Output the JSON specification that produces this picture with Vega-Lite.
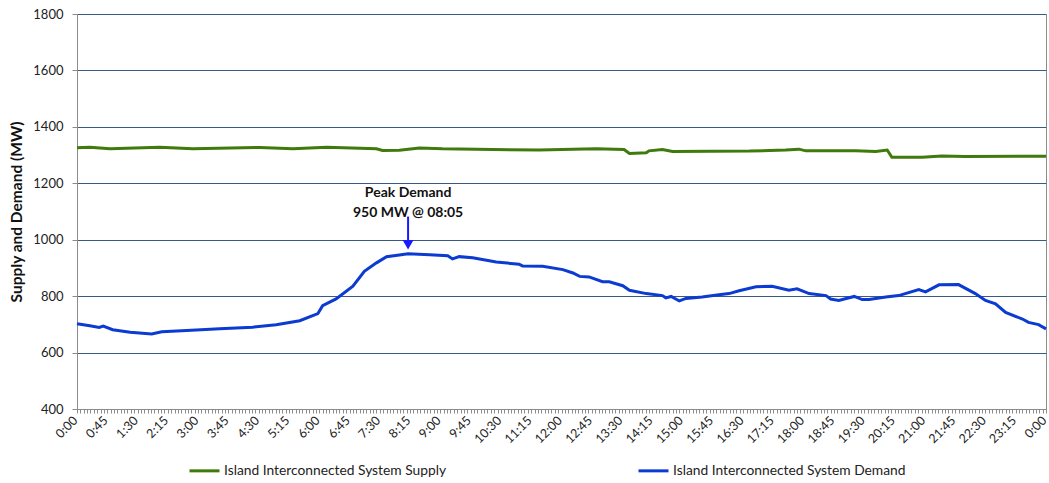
{
  "$schema": "https://vega.github.io/schema/vega-lite/v6.json",
  "width": 969,
  "height": 395,
  "autosize": {"type": "none"},
  "padding": {"left": 77, "top": 14, "right": 3, "bottom": 74},
  "background": "white",
  "config": {
    "font": "Lato",
    "view": {"stroke": "#8c8c8c", "strokeWidth": 1}
  },
  "datasets": {
    "series": [
      {"t": 0, "s": "Island Interconnected System Supply", "v": 1326},
      {"t": 19, "s": "Island Interconnected System Supply", "v": 1328},
      {"t": 49, "s": "Island Interconnected System Supply", "v": 1322},
      {"t": 123, "s": "Island Interconnected System Supply", "v": 1328},
      {"t": 172, "s": "Island Interconnected System Supply", "v": 1322},
      {"t": 272, "s": "Island Interconnected System Supply", "v": 1327},
      {"t": 321, "s": "Island Interconnected System Supply", "v": 1322},
      {"t": 371, "s": "Island Interconnected System Supply", "v": 1328},
      {"t": 445, "s": "Island Interconnected System Supply", "v": 1322},
      {"t": 454, "s": "Island Interconnected System Supply", "v": 1316},
      {"t": 479, "s": "Island Interconnected System Supply", "v": 1317},
      {"t": 509, "s": "Island Interconnected System Supply", "v": 1325},
      {"t": 543, "s": "Island Interconnected System Supply", "v": 1322},
      {"t": 687, "s": "Island Interconnected System Supply", "v": 1318},
      {"t": 771, "s": "Island Interconnected System Supply", "v": 1322},
      {"t": 813, "s": "Island Interconnected System Supply", "v": 1320},
      {"t": 821, "s": "Island Interconnected System Supply", "v": 1306},
      {"t": 846, "s": "Island Interconnected System Supply", "v": 1308},
      {"t": 850, "s": "Island Interconnected System Supply", "v": 1315},
      {"t": 870, "s": "Island Interconnected System Supply", "v": 1320},
      {"t": 885, "s": "Island Interconnected System Supply", "v": 1313},
      {"t": 999, "s": "Island Interconnected System Supply", "v": 1314},
      {"t": 1053, "s": "Island Interconnected System Supply", "v": 1318},
      {"t": 1073, "s": "Island Interconnected System Supply", "v": 1321},
      {"t": 1083, "s": "Island Interconnected System Supply", "v": 1315},
      {"t": 1157, "s": "Island Interconnected System Supply", "v": 1315},
      {"t": 1187, "s": "Island Interconnected System Supply", "v": 1313},
      {"t": 1204, "s": "Island Interconnected System Supply", "v": 1318},
      {"t": 1211, "s": "Island Interconnected System Supply", "v": 1292},
      {"t": 1256, "s": "Island Interconnected System Supply", "v": 1292},
      {"t": 1285, "s": "Island Interconnected System Supply", "v": 1297},
      {"t": 1320, "s": "Island Interconnected System Supply", "v": 1295},
      {"t": 1440, "s": "Island Interconnected System Supply", "v": 1296},
      {"t": 0, "s": "Island Interconnected System Demand", "v": 702},
      {"t": 19, "s": "Island Interconnected System Demand", "v": 695},
      {"t": 33, "s": "Island Interconnected System Demand", "v": 689},
      {"t": 39, "s": "Island Interconnected System Demand", "v": 694},
      {"t": 53, "s": "Island Interconnected System Demand", "v": 681},
      {"t": 79, "s": "Island Interconnected System Demand", "v": 672},
      {"t": 111, "s": "Island Interconnected System Demand", "v": 666},
      {"t": 126, "s": "Island Interconnected System Demand", "v": 674},
      {"t": 163, "s": "Island Interconnected System Demand", "v": 678},
      {"t": 212, "s": "Island Interconnected System Demand", "v": 684},
      {"t": 261, "s": "Island Interconnected System Demand", "v": 690},
      {"t": 296, "s": "Island Interconnected System Demand", "v": 699},
      {"t": 331, "s": "Island Interconnected System Demand", "v": 713},
      {"t": 358, "s": "Island Interconnected System Demand", "v": 738},
      {"t": 365, "s": "Island Interconnected System Demand", "v": 766},
      {"t": 385, "s": "Island Interconnected System Demand", "v": 790},
      {"t": 410, "s": "Island Interconnected System Demand", "v": 835},
      {"t": 427, "s": "Island Interconnected System Demand", "v": 888},
      {"t": 445, "s": "Island Interconnected System Demand", "v": 918},
      {"t": 460, "s": "Island Interconnected System Demand", "v": 940},
      {"t": 479, "s": "Island Interconnected System Demand", "v": 946},
      {"t": 492, "s": "Island Interconnected System Demand", "v": 950},
      {"t": 524, "s": "Island Interconnected System Demand", "v": 947},
      {"t": 551, "s": "Island Interconnected System Demand", "v": 943},
      {"t": 558, "s": "Island Interconnected System Demand", "v": 932},
      {"t": 568, "s": "Island Interconnected System Demand", "v": 940},
      {"t": 588, "s": "Island Interconnected System Demand", "v": 936},
      {"t": 623, "s": "Island Interconnected System Demand", "v": 921},
      {"t": 657, "s": "Island Interconnected System Demand", "v": 913},
      {"t": 662, "s": "Island Interconnected System Demand", "v": 907},
      {"t": 692, "s": "Island Interconnected System Demand", "v": 906},
      {"t": 722, "s": "Island Interconnected System Demand", "v": 894},
      {"t": 737, "s": "Island Interconnected System Demand", "v": 882},
      {"t": 747, "s": "Island Interconnected System Demand", "v": 870},
      {"t": 761, "s": "Island Interconnected System Demand", "v": 868},
      {"t": 781, "s": "Island Interconnected System Demand", "v": 851},
      {"t": 791, "s": "Island Interconnected System Demand", "v": 851},
      {"t": 811, "s": "Island Interconnected System Demand", "v": 837},
      {"t": 821, "s": "Island Interconnected System Demand", "v": 821},
      {"t": 846, "s": "Island Interconnected System Demand", "v": 809},
      {"t": 870, "s": "Island Interconnected System Demand", "v": 802},
      {"t": 875, "s": "Island Interconnected System Demand", "v": 794},
      {"t": 883, "s": "Island Interconnected System Demand", "v": 799},
      {"t": 895, "s": "Island Interconnected System Demand", "v": 783},
      {"t": 905, "s": "Island Interconnected System Demand", "v": 792},
      {"t": 929, "s": "Island Interconnected System Demand", "v": 797},
      {"t": 954, "s": "Island Interconnected System Demand", "v": 805},
      {"t": 969, "s": "Island Interconnected System Demand", "v": 809},
      {"t": 984, "s": "Island Interconnected System Demand", "v": 819},
      {"t": 1009, "s": "Island Interconnected System Demand", "v": 833},
      {"t": 1033, "s": "Island Interconnected System Demand", "v": 835},
      {"t": 1058, "s": "Island Interconnected System Demand", "v": 821},
      {"t": 1070, "s": "Island Interconnected System Demand", "v": 826},
      {"t": 1088, "s": "Island Interconnected System Demand", "v": 809},
      {"t": 1113, "s": "Island Interconnected System Demand", "v": 802},
      {"t": 1120, "s": "Island Interconnected System Demand", "v": 790},
      {"t": 1132, "s": "Island Interconnected System Demand", "v": 785},
      {"t": 1155, "s": "Island Interconnected System Demand", "v": 799},
      {"t": 1167, "s": "Island Interconnected System Demand", "v": 788},
      {"t": 1177, "s": "Island Interconnected System Demand", "v": 788},
      {"t": 1202, "s": "Island Interconnected System Demand", "v": 797},
      {"t": 1221, "s": "Island Interconnected System Demand", "v": 802},
      {"t": 1251, "s": "Island Interconnected System Demand", "v": 823},
      {"t": 1261, "s": "Island Interconnected System Demand", "v": 815},
      {"t": 1281, "s": "Island Interconnected System Demand", "v": 840},
      {"t": 1310, "s": "Island Interconnected System Demand", "v": 841},
      {"t": 1335, "s": "Island Interconnected System Demand", "v": 809},
      {"t": 1350, "s": "Island Interconnected System Demand", "v": 785},
      {"t": 1365, "s": "Island Interconnected System Demand", "v": 773},
      {"t": 1380, "s": "Island Interconnected System Demand", "v": 742},
      {"t": 1405, "s": "Island Interconnected System Demand", "v": 719},
      {"t": 1414, "s": "Island Interconnected System Demand", "v": 707},
      {"t": 1429, "s": "Island Interconnected System Demand", "v": 699},
      {"t": 1440, "s": "Island Interconnected System Demand", "v": 684}
    ],
    "peak": [
      {"t": 492, "label": "Peak Demand\n950 MW @ 08:05", "ty": 1152, "a0": 1082, "a1": 995, "tip": 982}
    ]
  },
  "layer": [
    {
      "data": {"name": "series"},
      "mark": {"type": "line", "strokeWidth": 3, "interpolate": "linear"},
      "encoding": {
        "x": {
          "field": "t",
          "type": "quantitative",
          "scale": {"domain": [0, 1440], "nice": false, "zero": false},
          "axis": {
            "title": null,
            "grid": false,
            "tickCount": 288,
            "labelExpr": "datum.value % 45 === 0 ? (floor(datum.value / 60) % 24) + ':' + (datum.value % 60 < 10 ? '0' : '') + (datum.value % 60) : ''",
            "labelOverlap": false,
            "labelFlush": false,
            "labelBound": false,
            "labelAngle": -45,
            "labelAlign": "right",
            "labelBaseline": "middle",
            "labelPadding": 5,
            "labelOffset": -2,
            "labelFontSize": 12.5,
            "labelColor": "#222222",
            "tickSize": 4,
            "tickColor": "#8c8c8c",
            "domainColor": "#8c8c8c"
          }
        },
        "y": {
          "field": "v",
          "type": "quantitative",
          "scale": {"domain": [400, 1800], "nice": false, "zero": false},
          "axis": {
            "title": "Supply and Demand (MW)",
            "titleFontSize": 15.5,
            "titleFontWeight": "bold",
            "titleColor": "#111111",
            "titlePadding": 8,
            "format": "d",
            "values": [400, 600, 800, 1000, 1200, 1400, 1600, 1800],
            "grid": true,
            "gridColor": "#3a5a86",
            "gridWidth": 1,
            "labelFontSize": 13,
            "labelColor": "#222222",
            "labelPadding": 9,
            "tickSize": 5,
            "tickColor": "#8c8c8c",
            "domainColor": "#8c8c8c"
          }
        },
        "color": {
          "field": "s",
          "type": "nominal",
          "scale": {
            "domain": ["Island Interconnected System Supply", "Island Interconnected System Demand"],
            "range": ["#3f7a0c", "#0b3bd0"]
          },
          "legend": {
            "title": null,
            "orient": "none",
            "direction": "horizontal",
            "legendX": 111,
            "legendY": 440,
            "symbolType": "stroke",
            "symbolSize": 900,
            "symbolStrokeWidth": 3,
            "labelFontSize": 13.8,
            "labelColor": "#222222",
            "labelLimit": 400,
            "columnPadding": 185,
            "labelOffset": 3
          }
        }
      }
    },
    {
      "data": {"name": "peak"},
      "mark": {"type": "rule", "color": "#1a1aff", "strokeWidth": 2},
      "encoding": {
        "x": {"field": "t", "type": "quantitative"},
        "y": {"field": "a0", "type": "quantitative"},
        "y2": {"field": "a1"}
      }
    },
    {
      "data": {"name": "peak"},
      "mark": {"type": "point", "shape": "triangle-down", "filled": true, "color": "#1a1aff", "size": 120, "opacity": 1},
      "encoding": {
        "x": {"field": "t", "type": "quantitative"},
        "y": {"field": "tip", "type": "quantitative"}
      }
    },
    {
      "data": {"name": "peak"},
      "mark": {"type": "text", "fontSize": 14, "fontWeight": "bold", "color": "#111111", "lineBreak": "\n", "lineHeight": 20, "align": "center", "baseline": "alphabetic"},
      "encoding": {
        "x": {"field": "t", "type": "quantitative"},
        "y": {"field": "ty", "type": "quantitative"},
        "text": {"field": "label"}
      }
    }
  ]
}
